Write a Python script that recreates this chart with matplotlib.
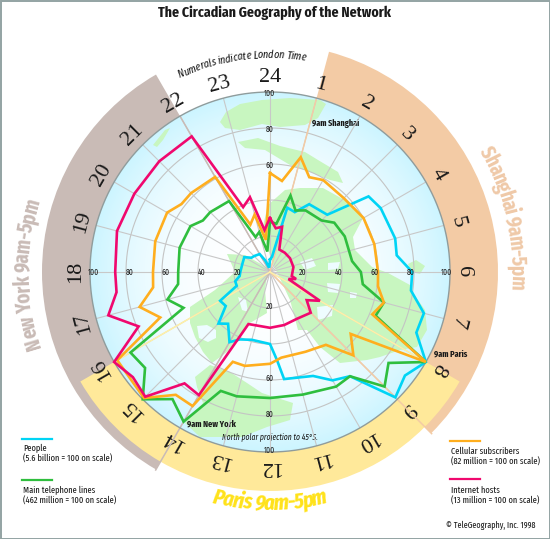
import numpy as np
import matplotlib
matplotlib.use('Agg')
import matplotlib.pyplot as plt
from matplotlib.patches import Wedge, Circle, Polygon, Rectangle
from matplotlib.font_manager import FontProperties
from matplotlib.textpath import TextToPath

# DATA: hour of London time (vertex), value on the 0-100 scale
people_h = [0, 0.5, 1, 1.5, 2, 3, 3.5, 4, 5, 5.5, 6, 6.5, 7, 7.5, 8, 8.5, 9, 9.5, 10, 10.5, 11.5, 11.7, 12, 13, 13.6, 14, 14.6, 15, 15.5, 16, 16.5, 17, 17.5, 18, 19, 20, 20.5, 21, 22, 22.5, 23, 23.5]
people_v = [7, 8.5, 37, 36, 43.5, 45, 69, 71, 72, 71, 79, 79, 88.5, 88, 100, 94.5, 98.5, 73, 69.5, 62.5, 60, 49, 40, 39, 41, 45, 37, 40.5, 31, 32, 20, 20, 17, 16.5, 16, 16.5, 13, 12.5, 11.5, 7, 3, 3]
phones_h = [0, 0.5, 1, 1.5, 2, 3, 3.5, 4.3, 5.5, 6, 6.5, 7, 7.5, 8, 8.5, 9, 9.5, 10, 11, 12, 13, 13.5, 14, 14.5, 15, 15.5, 16, 16.5, 17, 17.5, 18, 19, 20, 20.5, 21, 22, 22.5, 23, 23.5]
phones_v = [28, 27, 44, 37, 39.5, 40.5, 45, 46, 46, 50.5, 52, 65.5, 63.5, 100, 83, 90, 73, 73.5, 70.5, 70, 71.5, 71.5, 96, 89, 100, 87.5, 89.5, 52, 59, 51.5, 51, 52, 51, 47, 47, 45.5, 21, 23, 11.5]
cell_h = [0, 0.5, 1, 1.5, 2, 3, 4, 5, 6, 6.5, 7, 7.5, 8, 8.5, 9, 9.5, 10.4, 11.5, 12, 13, 13.5, 14, 14.5, 15, 16, 16.5, 17, 17.5, 18, 19, 20, 20.5, 21, 22, 22.5, 23, 23.5]
cell_v = [55, 51, 66, 57, 59, 58, 60, 60, 60, 60.5, 65.5, 61.5, 100, 56.5, 65.5, 51, 48.5, 48, 51, 54, 54, 86, 86, 99, 98, 66, 75, 65.5, 65, 66, 66, 62, 62, 61, 28.5, 33, 18]
hosts_h = [0, 0.5, 1, 1.5, 2.5, 3.7, 5.2, 6.7, 7, 7.4, 8, 8.5, 9, 10, 11, 12, 13.5, 14, 14.5, 15, 15.5, 16, 16.5, 17, 17.5, 18, 19, 20, 21, 22, 22.5, 23, 23.5]
hosts_v = [30, 24.5, 26, 13.5, 13.5, 13.5, 13.3, 12.3, 15, 11, 32, 25.7, 32, 30, 30.5, 31, 31.3, 79, 78, 98, 96, 100, 79, 93, 86, 86, 88, 87, 87, 87, 39, 43, 23.5]

rings = [20, 40, 60, 80, 100]
hour_labels = [24] + list(range(1, 24))

cyan = '#00D4F5'
green = '#2FBE3E'
orange = '#FFAE1E'
pink = '#F0086E'
tan = '#C9BBB6'
peach = '#F3CBA5'
yellow = '#FFE99A'
land_col = '#C8F6C0'
hole_col = '#EEFCFF'

# land outlines, in picture pixels (background decoration only)
land = [
    # arctic pieces at the top
    [(220,122),(226,112),(240,104),(262,100),(290,98),(320,100),(326,104),(318,118),(305,125),(280,127),(262,124),(240,130),(225,128)],
    [(238,142),(258,138),(280,146),(305,152),(318,160),(338,172),(343,183),(330,180),(310,172),(290,165),(265,150),(245,148)],
    [(153,145),(165,130),(170,128),(163,140),(157,147)],
    # large mass on the right
    [(268,205),(285,190),(300,188),(323,188),(350,203),(363,218),(353,237),(355,250),(372,267),(388,273),(410,285),(413,293),(425,310),(427,330),(417,347),(400,350),(380,357),(367,360),(340,363),(320,347),(307,330),(298,330),(290,300),(283,285),(272,262),(262,230)],
    # left mass and its lower continuation
    [(227,254),(245,255),(268,268),(265,290),(267,313),(250,323),(238,338),(227,352),(212,363),(203,352),(195,337),(190,323),(190,307),(215,290),(235,272)],
    [(195,377),(210,365),(230,372),(247,383),(262,393),(293,403),(290,420),(267,427),(242,437),(200,437),(185,423),(203,403),(197,387)],
    # island off the rim
    [(408,264),(416,260),(425,266),(420,274),(411,272)],
]
holes = [
    [(197,326),(207,325),(216,330),(216,338),(208,342),(199,338)],
    [(328,263),(340,262),(338,269),(328,270)],
    [(327,283),(340,284),(338,293),(328,292)],
    [(317,307),(333,305),(332,316),(318,320)],
    [(350,292),(357,293),(356,298),(350,298)],
    [(238,297),(246,300),(248,312),(242,310)],
    [(300,262),(312,258),(316,266),(305,270)],
]

W, H = 550, 539
cx, cy, R = 270, 272, 180
sans = ['Fira Sans Extra Condensed', 'Liberation Sans', 'DejaVu Sans']

plt.rcParams['font.family'] = sans
fig = plt.figure(figsize=(5.5, 5.39), dpi=100)

# background axes in picture pixels
bg = fig.add_axes([0, 0, 1, 1])
gx, gy = np.meshgrid(np.linspace(-1, 1, 361), np.linspace(-1, 1, 361))
gr = np.clip(np.hypot(gx, gy), 0, 1)
rim = np.array([0.80, 0.96, 1.0])
mix = (gr ** 2.6)[..., None]
grad = (1 - mix) * np.array([1, 1, 1]) + mix * rim
im = bg.imshow(grad, extent=(cx - R, cx + R, cy + R, cy - R), zorder=1, interpolation='bilinear')
clip = Circle((cx, cy), R, transform=bg.transData)
im.set_clip_path(clip)
bg.set_xlim(0, W)
bg.set_ylim(H, 0)
bg.set_aspect('auto')
bg.axis('off')

bg.add_patch(Wedge((cx, cy), 228, 120, 240, width=48, color=tan, lw=0, zorder=2))
bg.add_patch(Wedge((cx, cy), 228, -75, 45, width=48, color=peach, lw=0, zorder=2))
bg.add_patch(Wedge((cx, cy), 219, 30, 150, width=39, color=yellow, lw=0, zorder=3))

for poly in land:
    p = Polygon(poly, closed=True, fc=land_col, ec='none', zorder=4)
    bg.add_patch(p)
    p.set_clip_path(clip)
for poly in holes:
    bg.add_patch(Polygon(poly, closed=True, fc=hole_col, ec='none', zorder=5))

bg.add_patch(Rectangle((0.5, 0.5), W - 1, H - 1, fc='none', ec='#93A3A3', lw=1.4, zorder=20))


def ang(hour):
    return np.deg2rad(15 * np.asarray(hour, dtype=float))


# polar axes holding grid and series
ax = fig.add_axes([(cx - R) / W, (H - cy - R) / H, 2 * R / W, 2 * R / H], polar=True)
ax.set_theta_zero_location('N')
ax.set_theta_direction(-1)
ax.set_rlim(0, 100)
ax.axis('off')
ax.patch.set_alpha(0)

th = np.linspace(0, 2 * np.pi, 361)
for r in rings[:-1]:
    ax.plot(th, np.full_like(th, r), color='#C4C4C4', lw=0.8, zorder=2)
ax.plot(th, np.full_like(th, 100), color='#8F9C9C', lw=1.0, zorder=3, clip_on=False)
for h in range(24):
    ax.plot([ang(h)] * 2, [0, 100], color='#C8C8C8', lw=0.8, zorder=2)
for h, c, end in [(14, tan, 127), (22, tan, 100), (9, peach, 127), (1, peach, 100),
                  (8, '#FFF0A8', 100), (16, '#FFF0A8', 100)]:
    ax.plot([ang(h)] * 2, [0, end], color=c, lw=1.1, zorder=2.5, clip_on=False)

for hs, vs, c in [(people_h, people_v, cyan), (phones_h, phones_v, green),
                  (cell_h, cell_v, orange), (hosts_h, hosts_v, pink)]:
    t = np.append(ang(hs), ang(hs[0]))
    ax.plot(t, vs + vs[:1], color=c, lw=1.9, zorder=5, solid_joinstyle='miter', clip_on=False)

# ring labels
lab = dict(fontsize=6, color='#222222', ha='center', va='center', zorder=6)
for v in rings:
    ax.text(ang(6), v - 2, str(v), **lab)
    ax.text(ang(18), v - 2, str(v), **lab)
    if v >= 60:
        ax.text(ang(0), v - 1, str(v), **lab)
    if v != 40:
        ax.text(ang(12), v - 1, str(v), **lab)

# hour numerals
for h, s in enumerate(hour_labels):
    a = ang(h)
    bg.text(cx + 194 * np.sin(a), cy - 194 * np.cos(a), str(s), rotation=-15 * h,
            rotation_mode='anchor', ha='center', va='center', fontsize=16,
            family='Liberation Serif', color='#1A1A1A', zorder=10)


def arc_text(s, radius, start, end, col, size, weight='normal', style='normal', flip=False):
    prop = FontProperties(family=sans, size=size, weight=weight, style=style)
    ttp = TextToPath()
    ws = [ttp.get_text_width_height_descent(ch, prop, False)[0] * 100 / 72 for ch in s]
    total = sum(ws)
    pos = 0
    for ch, w in zip(s, ws):
        d = start + (end - start) * (pos + w / 2) / total
        a = np.deg2rad(d)
        rot = 180 - d if flip else -d
        bg.text(cx + radius * np.sin(a), cy - radius * np.cos(a), ch, rotation=rot,
                rotation_mode='anchor', ha='center', va='baseline', color=col,
                fontproperties=prop, zorder=11)
        pos += w


arc_text('Shanghai 9am-5pm', 241, 60, 94, '#EFC9A8', 15, 'bold')
arc_text('New York 9am-5pm', 241, 252, 287, tan, 15, 'bold')
arc_text('Paris 9am-5pm', 238, 194, 166, '#FFE21A', 16, 'bold', 'italic', flip=True)
arc_text('Numerals indicate London Time', 214, -25, 9.5, '#1A1A1A', 8, style='italic')

t_kw = dict(color='#1A1A1A', zorder=12)
bg.text(275, 13, 'The Circadian Geography of the Network', fontsize=10.8, weight='bold', ha='center', va='center', **t_kw)
bg.text(270, 437, 'North polar projection to 45\u00b0S.', fontsize=6, style='italic', ha='center', va='center', **t_kw)
bg.text(336, 123, '9am Shanghai', fontsize=6.5, weight='bold', ha='center', va='center', **t_kw)
bg.text(451, 354, '9am Paris', fontsize=6.5, weight='bold', ha='center', va='center', **t_kw)
bg.text(211, 424, '9am New York', fontsize=6.5, weight='bold', ha='center', va='center', **t_kw)

# legend
leg = [(22, 52, 439, cyan, 'People', '(5.6 billion = 100 on scale)', 448, 459),
       (22, 52, 480, green, 'Main telephone lines', '(462 million = 100 on scale)', 490, 501),
       (450, 480, 441, orange, 'Cellular subscribers', '(82 million = 100 on scale)', 451, 462),
       (450, 480, 479, pink, 'Internet hosts', '(13 million = 100 on scale)', 490, 501)]
for x0, x1, yl, c, a1, a2, y1, y2 in leg:
    bg.plot([x0, x1], [yl, yl], color=c, lw=1.6, zorder=12)
    bg.text(x0 + 1, y1, a1, fontsize=6.6, ha='left', va='center', **t_kw)
    bg.text(x0 + 1, y2, a2, fontsize=6.6, ha='left', va='center', **t_kw)
bg.text(446, 525, '\u00a9 TeleGeography, Inc. 1998', fontsize=6.3, ha='left', va='center', **t_kw)

fig.savefig('out.png', dpi=100)
